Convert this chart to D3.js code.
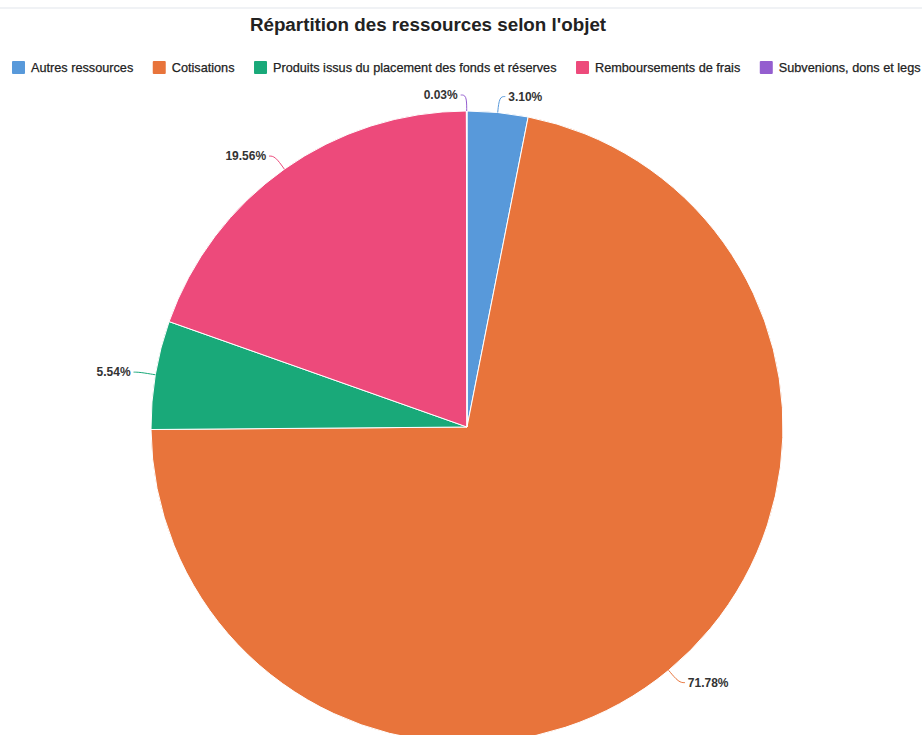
<!DOCTYPE html>
<html>
<head>
<meta charset="utf-8">
<script src="https://d3js.org/d3.v7.min.js"></script>
<style>
  body { margin: 0; background: #fff; overflow: hidden; }
  svg { display: block; font-family: "Liberation Sans", Arial, sans-serif; }
</style>
</head>
<body>
<div id="my_dataviz"></div>
<script>
// data
var categories = ["Autres ressources", "Cotisations", "Produits issus du placement des fonds et réserves", "Remboursements de frais", "Subvenions, dons et legs"];
var shares = [3.10, 71.78, 5.54, 19.56, 0.03];
var labels = ["3.10%", "71.78%", "5.54%", "19.56%", "0.03%"];
var colors = ["#5899DA", "#E8743B", "#19A979", "#ED4A7B", "#945ECF"];

var width = 922, height = 735;
var cx = 467, cy = 427, radius = 316;

var svg = d3.select("#my_dataviz")
  .append("svg")
  .attr("width", width)
  .attr("height", height);

// thin top border
svg.append("rect").attr("x", 0).attr("y", 7).attr("width", width).attr("height", 2).attr("fill", "#f0f2f5");

// title
svg.append("text")
  .attr("x", 428).attr("y", 31)
  .attr("text-anchor", "middle")
  .style("font-size", "18.8px").style("font-weight", "bold").style("fill", "#222")
  .text("Répartition des ressources selon l'objet");

// legend
var legend = svg.append("g").attr("transform", "translate(12,61)");
var lx = 0;
categories.forEach(function(c, i) {
  var g = legend.append("g").attr("transform", "translate(" + lx + ",0)");
  g.append("rect").attr("width", 13).attr("height", 13).attr("rx", 1).attr("fill", colors[i]);
  var t = g.append("text").attr("x", 19).attr("y", 11)
    .style("font-size", "12.7px").style("fill", "#222")
    .style("stroke", "#222").style("stroke-width", 0.25)
    .text(c);
  lx += 19 + t.node().getComputedTextLength() + 19.5;
});

// pie
var data = categories.map(function(c, i) { return {name: c, value: shares[i], label: labels[i], color: colors[i]}; });
var pie = d3.pie().sort(null).value(function(d) { return d.value; });
var arc = d3.arc().innerRadius(0).outerRadius(radius);
var arcs = pie(data);

var g = svg.append("g").attr("transform", "translate(" + cx + "," + cy + ")");
g.selectAll("path.slice")
  .data(arcs)
  .enter()
  .append("path")
  .attr("class", "slice")
  .attr("d", arc)
  .attr("fill", function(d) { return d.data.color; })
  .attr("stroke", "#fff")
  .attr("stroke-width", 1);

// leader lines + labels
var line = d3.line().curve(d3.curveBasis);
arcs.forEach(function(d) {
  var a = (d.startAngle + d.endAngle) / 2;
  var s = Math.sin(a), c = -Math.cos(a);
  var p0 = [radius * s, radius * c];
  var p1 = [(radius + 16) * s, (radius + 16) * c];
  var dir = s >= 0 ? 1 : -1;
  if (Math.abs(s) < 0.01) dir = -1;
  var p2 = [p1[0] + dir * 6, p1[1]];
  g.append("path")
    .attr("d", line([p0, p1, p2]))
    .attr("fill", "none")
    .attr("stroke", d.data.color)
    .attr("stroke-width", 1);
  g.append("text")
    .attr("x", p2[0] + dir * 3)
    .attr("y", p2[1] + 4)
    .attr("text-anchor", dir > 0 ? "start" : "end")
    .style("font-size", "12px").style("font-weight", "bold").style("fill", "#333")
    .text(d.data.label);
});
</script>
</body>
</html>
